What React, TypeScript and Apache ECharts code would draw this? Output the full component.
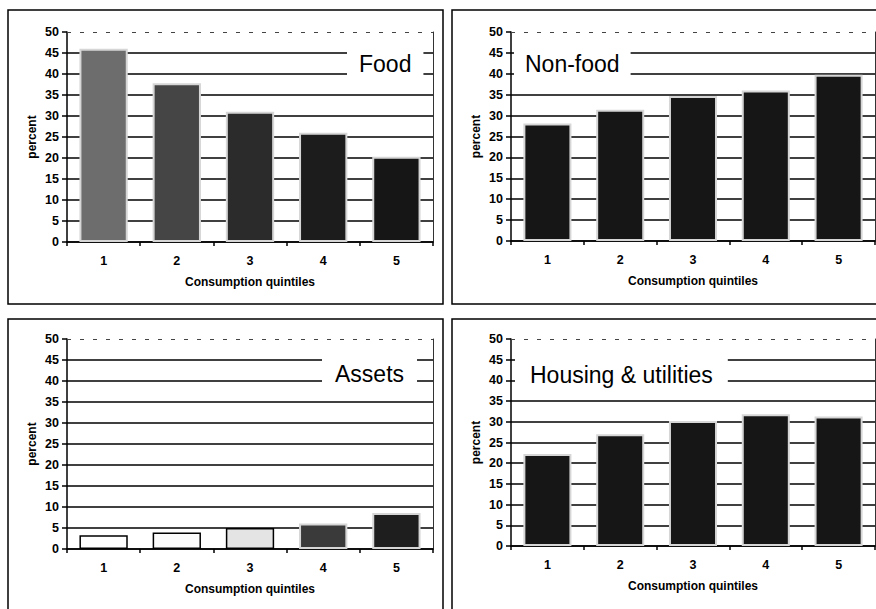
import React, { useEffect, useRef } from "react";
import * as echarts from "echarts";

const categories = ["1", "2", "3", "4", "5"];
const foodValues = [46.0, 37.8, 31.0, 26.0, 20.3];
const nonFoodValues = [28.1, 31.4, 34.7, 36.0, 39.8];
const assetsValues = [3.3, 3.9, 5.0, 6.1, 8.6];
const housingValues = [22.2, 27.0, 30.2, 31.8, 31.3];

const panelTitles = ["Food", "Non-food", "Assets", "Housing & utilities"];
const yAxisName = "percent";
const xAxisName = "Consumption quintiles";

const foodColors = ["#6d6d6d", "#454545", "#2b2b2b", "#1c1c1c", "#161616"];
const nonFoodColors = ["#161616", "#161616", "#161616", "#161616", "#161616"];
const assetsColors = ["#ffffff", "#fbfbfb", "#e4e4e4", "#3a3a3a", "#1e1e1e"];
const housingColors = ["#161616", "#161616", "#161616", "#161616", "#161616"];
const lightEdge = "#d6d6d6";
const assetsEdges = ["#000000", "#000000", "#000000", lightEdge, lightEdge];

const FONT = "'Liberation Sans', Arial, sans-serif";

export default function App() {
  const ref = useRef<HTMLDivElement>(null);

  useEffect(() => {
    document.body.style.margin = "0";
    document.body.style.overflow = "hidden";
    if (!ref.current) return;
    const chart = echarts.init(ref.current, null, { renderer: "svg" });

    const grids = [
      { left: 67, top: 32, width: 366, height: 210 },
      { left: 511, top: 32, width: 364, height: 209 },
      { left: 67, top: 339, width: 366, height: 210 },
      { left: 511, top: 339, width: 364, height: 207 },
    ];

    const valuesList = [foodValues, nonFoodValues, assetsValues, housingValues];
    const colorsList = [foodColors, nonFoodColors, assetsColors, housingColors];
    const edgesList = [
      foodColors.map(() => lightEdge),
      nonFoodColors.map(() => lightEdge),
      assetsEdges,
      housingColors.map(() => lightEdge),
    ];

    const xAxes = grids.map((_, i) => ({
      type: "category",
      gridIndex: i,
      data: categories,
      boundaryGap: true,
      name: xAxisName,
      nameLocation: "middle",
      nameGap: 34,
      nameTextStyle: { fontFamily: FONT, fontWeight: "bold", fontSize: 12, color: "#000" },
      axisLine: { show: true, lineStyle: { color: "#000", width: 1.5 } },
      axisTick: { show: true, length: 4, interval: 0, lineStyle: { color: "#000", width: 1.5 } },
      axisLabel: { margin: 12, fontFamily: FONT, fontWeight: "bold", fontSize: 12.5, color: "#000" },
      splitLine: { show: false },
    }));

    const yAxes: any[] = [];
    grids.forEach((_, i) => {
      yAxes.push({
        type: "value",
        gridIndex: i,
        min: 0,
        max: 50,
        interval: 5,
        position: "left",
        name: yAxisName,
        nameLocation: "middle",
        nameGap: 29,
        nameTextStyle: { fontFamily: FONT, fontWeight: "bold", fontSize: 12, color: "#000" },
        axisLine: { show: true, lineStyle: { color: "#000", width: 1.5 } },
        axisTick: { show: true, length: 5, lineStyle: { color: "#000", width: 1.5 } },
        axisLabel: { margin: 8, fontFamily: FONT, fontWeight: "bold", fontSize: 12.5, color: "#000" },
        splitLine: { show: true, showMaxLine: false, lineStyle: { color: "#000", width: 1.5 } },
      });
    });
    grids.forEach((_, i) => {
      yAxes.push({
        type: "value",
        gridIndex: i,
        min: 0,
        max: 50,
        interval: 5,
        position: "right",
        axisLine: { show: true, lineStyle: { color: "#333", width: 1 } },
        axisTick: { show: false },
        axisLabel: { show: false },
        splitLine: { show: false },
      });
    });

    const series = valuesList.map((vals, i) => ({
      type: "bar",
      xAxisIndex: i,
      yAxisIndex: i,
      barWidth: "66%",
      data: vals.map((v, j) => ({
        value: v,
        itemStyle: {
          color: colorsList[i][j],
          borderColor: edgesList[i][j],
          borderWidth: i === 2 && j < 3 ? 1.5 : 2,
        },
      })),
      markLine: {
        silent: true,
        symbol: "none",
        label: { show: false },
        lineStyle: { color: "#444", width: 1, type: [4, 9] },
        data: [{ yAxis: 50 }],
      },
    }));

    const titlePos = [
      { left: 347, top: 47, padding: [5, 12] },
      { left: 514, top: 47, padding: [5, 11] },
      { left: 322, top: 357, padding: [5, 13] },
      { left: 515, top: 358, padding: [5, 15] },
    ];

    const titles = panelTitles.map((t, i) => ({
      text: t,
      left: titlePos[i].left,
      top: titlePos[i].top,
      padding: titlePos[i].padding,
      backgroundColor: "#fff",
      textStyle: { fontFamily: FONT, fontWeight: "normal", fontSize: 23, color: "#000" },
    }));

    const border = { stroke: "#000", lineWidth: 1.5, fill: "none" };
    const graphic = [
      { type: "rect", shape: { x: 8, y: 10, width: 435, height: 294 }, style: border, silent: true },
      { type: "rect", shape: { x: 452, y: 10, width: 440, height: 294 }, style: border, silent: true },
      { type: "rect", shape: { x: 8, y: 319, width: 435, height: 310 }, style: border, silent: true },
      { type: "rect", shape: { x: 452, y: 319, width: 440, height: 310 }, style: border, silent: true },
    ];

    chart.setOption({
      animation: false,
      backgroundColor: "#fff",
      title: titles,
      grid: grids,
      xAxis: xAxes,
      yAxis: yAxes,
      series,
      graphic,
    });

    return () => chart.dispose();
  }, []);

  return <div ref={ref} style={{ width: 876, height: 609 }} />;
}
